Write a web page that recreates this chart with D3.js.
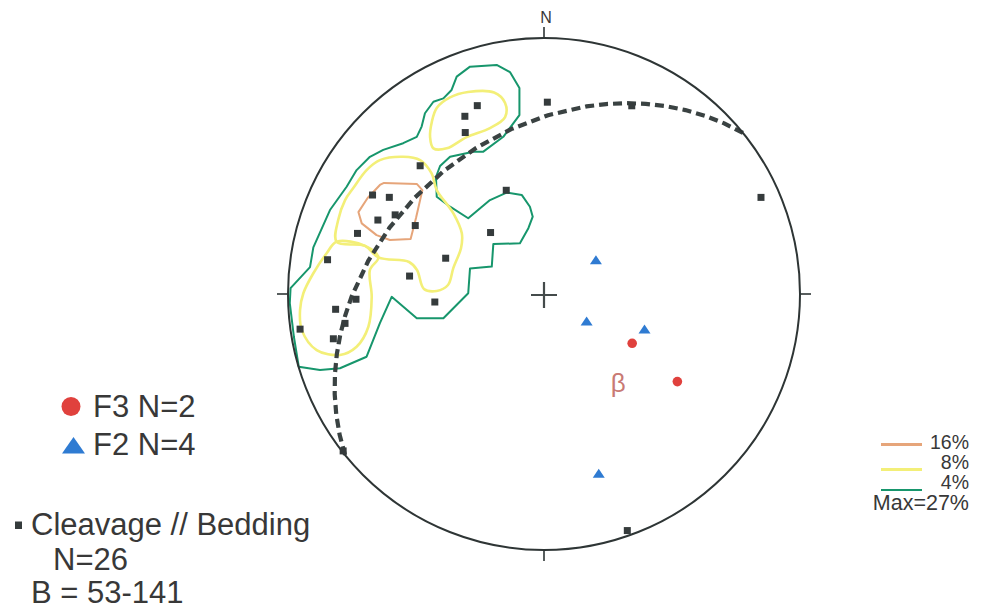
<!DOCTYPE html>
<html><head><meta charset="utf-8">
<script src="https://cdn.jsdelivr.net/npm/d3@7"></script>
<style>html,body{margin:0;padding:0;background:#fff}</style>
</head><body>
<svg id="chart" width="983" height="610"></svg>
<script>
// ---------- DATA (trend, plunge in degrees, lower hemisphere) ----------
const cleavagePoles = [
  [340.5,23],[336,25],[334,30.5],[1,26],[25,20],[66,8],[316,31],[340,54.5],
  [300,23.7],[302,29.5],[298,34.5],[294,29.7],[298,42.5],[288,24.4],[319,64],
  [279,15.5],[290,56.4],[277.6,46],[268.4,27.4],[265.8,19.5],[265.8,54.8],
  [261.8,4.2],[261.6,22.5],[258,17],[232,0.5],[160.6,2.3]
];
const f2Axes = [[57.4,70.4],[123.3,73.8],[109.7,55.7],[163.1,27.3]];
const f3Axes = [[119.2,57.6],[123.3,37.7]];
const betaAxis = [141,53];
const piCircle = [321,38]; // dip direction, dip
const legendLeft = ["F3 N=2","F2 N=4","Cleavage // Bedding","N=26","B = 53-141"];
const contourLabels = ["16%","8%","4%"];
const maxLabel = "Max=27%";
// contour lines, net-plane coordinates (percent of primitive radius, x east, y north)
const contour4 = [[-34.1,84.9],[-28.9,88.8],[-18.5,89.5],[-13.3,86.7],[-9.6,80.5],[-9.6,69.9],[-15.9,61.4],[-23.7,55.6],[-27.6,55.6],[-36.7,53.6],[-40.6,50.0],[-42.2,45.7],[-41.9,38.0],[-36.7,34.1],[-29.6,29.6],[-21.1,36.7],[-14.6,39.6],[-8.7,38.7],[-5.5,34.1],[-4.4,30.2],[-6.1,25.7],[-9.4,19.8],[-19.8,19.5],[-20.4,10.7],[-28.9,10.0],[-29.6,0.3],[-39.3,-9.5],[-49.7,-9.5],[-59.5,-1.1],[-64.1,-11.4],[-69.3,-24.5],[-79.7,-29.0],[-87.5,-29.7],[-95.8,-28.4],[-97.7,-16.7],[-99.3,-3.6],[-99.0,2.3],[-91.4,10.5],[-90.1,18.2],[-83.6,32.8],[-77.1,41.9],[-73.2,48.4],[-68.0,53.6],[-62.8,56.3],[-55.0,58.9],[-49.7,61.4],[-47.8,65.4],[-46.5,70.6],[-43.2,75.1],[-39.3,76.4],[-36.1,79.7]];
const contour8Upper = [[-41.9,72.7],[-36.7,76.8],[-29.7,78.9],[-19.5,78.7],[-15.2,74.6],[-15.2,69.1],[-21.1,64.8],[-30.2,61.3],[-38.0,56.9],[-43.2,56.9],[-44.5,61.3],[-43.8,67.3]];
const contour8Mid = [[-81.0,20.4],[-80.4,28.9],[-77.7,36.7],[-74.5,41.4],[-69.3,48.4],[-64.1,52.3],[-55.0,53.6],[-48.4,52.3],[-43.9,47.1],[-41.9,40.6],[-35.4,31.5],[-32.1,23.7],[-32.4,18.0],[-35.4,10.2],[-37.5,3.5],[-41.9,1.2],[-46.9,2.0],[-49.6,9.4],[-52.7,12.5],[-64.7,14.3],[-69.9,18.8]];
const contour8Lower = [[-81.0,20.4],[-84.9,15.9],[-90.1,8.1],[-94.0,0.3],[-95.3,-6.3],[-94.6,-14.1],[-88.8,-21.9],[-79.7,-23.8],[-73.2,-20.6],[-68.6,-12.8],[-67.3,-1.1],[-68.0,9.4],[-64.7,14.3],[-69.9,18.8]];
const contour16 = [[-62.5,43.4],[-49.7,43.0],[-47.5,40.6],[-50.0,29.7],[-52.1,21.5],[-60.2,21.1],[-65.4,23.0],[-71.2,27.6],[-72.5,32.0],[-68.9,37.5],[-64.1,42.6]];

// ---------- LAYOUT ----------
const cx = 544, cy = 294, R = 256;
const C = {green:"#17966c", yellow:"#f3ef78", orange:"#e6a57a", dark:"#2e3535", sq:"#353b3c", blue:"#2f7bd2", red:"#e0413d", beta:"#c97a74", text:"#383838"};
const svg = d3.select("#chart");
svg.append("rect").attr("width",983).attr("height",610).attr("fill","#fff");

const proj = d3.geoAzimuthalEqualArea().rotate([0,-90]).scale(R/Math.SQRT2).translate([cx,cy]);
const norm = t => ((t%360)+360)%360;
const toGeo = ([t,p]) => [180 - norm(t), p];
const P = d => proj(toGeo(d));
const gpath = d3.geoPath(proj);
const nx = d3.scaleLinear().domain([-100,100]).range([cx-R,cx+R]);
const ny = d3.scaleLinear().domain([-100,100]).range([cy+R,cy-R]);
const lin = d3.line().x(d=>nx(d[0])).y(d=>ny(d[1])).curve(d3.curveLinearClosed);
const smooth = d3.line().x(d=>nx(d[0])).y(d=>ny(d[1])).curve(d3.curveCatmullRomClosed.alpha(0.5));

// contours
const gC = svg.append("g").attr("fill","none").attr("stroke-linejoin","round");
gC.append("path").attr("d",lin(contour4)).attr("stroke",C.green).attr("stroke-width",2);
[contour8Upper,contour8Mid,contour8Lower].forEach(c=>
  gC.append("path").attr("d",smooth(c)).attr("stroke",C.yellow).attr("stroke-width",2.6));
gC.append("path").attr("d",lin(contour16)).attr("stroke",C.orange).attr("stroke-width",2);

// pi great circle
const dd = piCircle[0], dip = piCircle[1];
svg.append("path")
  .attr("d", gpath({type:"LineString", coordinates:[toGeo([dd+90,0]), toGeo([dd,dip]), toGeo([dd-90,0])]}))
  .attr("fill","none").attr("stroke","#3a4242").attr("stroke-width",4.2).attr("stroke-dasharray","9,5");

// primitive circle + ticks
svg.append("circle").attr("cx",cx).attr("cy",cy).attr("r",R).attr("fill","none").attr("stroke",C.dark).attr("stroke-width",2);
[0,90,180,270].forEach(a=>{
  const r = a*Math.PI/180, s=Math.sin(r), c=-Math.cos(r);
  svg.append("line").attr("x1",cx+s*(R-1)).attr("y1",cy+c*(R-1)).attr("x2",cx+s*(R+11)).attr("y2",cy+c*(R+11))
    .attr("stroke",C.dark).attr("stroke-width",1.6);
});
svg.append("text").attr("x",cx+2).attr("y",cy-R-15).attr("text-anchor","middle")
  .attr("font-family","Liberation Sans, Arial, sans-serif").attr("font-size",16).attr("fill",C.text).text("N");
// centre cross
svg.append("path").attr("d",`M${cx-13},${cy+1}H${cx+13}M${cx},${cy-12}V${cy+14}`).attr("stroke","#444b4b").attr("stroke-width",2.2);

// points
svg.append("g").selectAll("path").data(cleavagePoles).join("path")
  .attr("d", d3.symbol(d3.symbolSquare, 49)())
  .attr("transform", d=>{const p=P(d);return `translate(${p[0]},${p[1]})`;})
  .attr("fill",C.sq);
svg.append("g").selectAll("path").data(f2Axes).join("path")
  .attr("d","M0,-5.5L6,3.5L-6,3.5Z")
  .attr("transform", d=>{const p=P(d);return `translate(${p[0]},${p[1]})`;})
  .attr("fill",C.blue);
svg.append("g").selectAll("circle").data(f3Axes).join("circle")
  .attr("cx",d=>P(d)[0]).attr("cy",d=>P(d)[1]).attr("r",4.8).attr("fill",C.red);
const bp = P(betaAxis);
svg.append("text").attr("x",bp[0]+2).attr("y",bp[1]+9).attr("text-anchor","middle")
  .attr("font-family","Liberation Sans, Arial, sans-serif").attr("font-size",26).attr("fill",C.beta).text("β");

// left legend
const font = "Liberation Sans, Arial, sans-serif";
svg.append("circle").attr("cx",71).attr("cy",406.5).attr("r",9.5).attr("fill",C.red);
svg.append("path").attr("d","M73.5,437L85,453.5L62,453.5Z").attr("fill",C.blue);
svg.append("rect").attr("x",15).attr("y",521.5).attr("width",7).attr("height",7.5).attr("fill",C.sq);
const lt = [[93,417,legendLeft[0]],[93,455,legendLeft[1]],[31,535,legendLeft[2]],[53,570,legendLeft[3]],[31,603,legendLeft[4]]];
svg.append("g").selectAll("text").data(lt).join("text")
  .attr("x",d=>d[0]).attr("y",d=>d[1]).text(d=>d[2])
  .attr("font-family",font).attr("font-size",31).attr("fill",C.text);

// right legend
const rl = [[contourLabels[0],C.orange,448.5,444.5,3],[contourLabels[1],C.yellow,468.5,469.5,3],[contourLabels[2],C.green,488.5,490,2]];
rl.forEach(([t,col,yb,yl,w])=>{
  svg.append("line").attr("x1",881).attr("x2",922).attr("y1",yl).attr("y2",yl).attr("stroke",col).attr("stroke-width",w);
  svg.append("text").attr("x",969).attr("y",yb).attr("text-anchor","end").attr("font-family",font).attr("font-size",19.5).attr("fill",C.text).text(t);
});
svg.append("text").attr("x",969).attr("y",509.5).attr("text-anchor","end").attr("font-family",font).attr("font-size",21.5).attr("fill",C.text).text(maxLabel);
</script>
</body></html>
